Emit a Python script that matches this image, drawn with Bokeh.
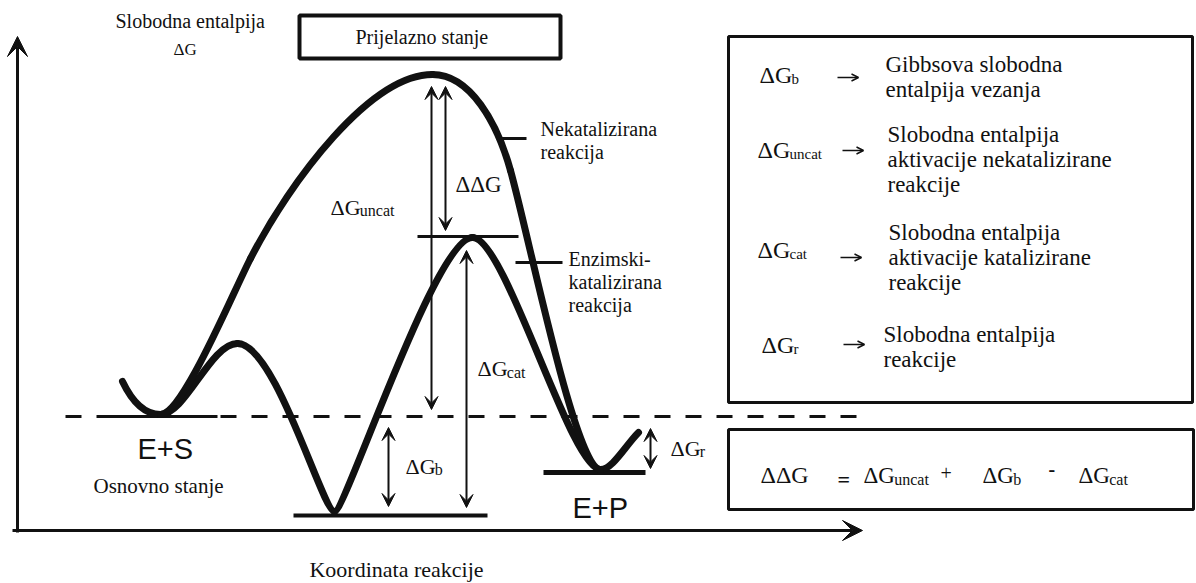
from bokeh.plotting import figure
from bokeh.models import Range1d, Arrow, VeeHead, OpenHead, ColumnDataSource
from bokeh.core.properties import value
from bokeh.embed import file_html
from bokeh.resources import INLINE

# ---------------- data (free energy G relative to E+S, arbitrary units) ----------------
G_ES = 0          # E+S  (osnovno stanje)
G_ESC = -99       # ES complex
G_TS_CAT = 180    # catalysed transition state
G_TS_UNCAT = 342  # uncatalysed transition state
G_EP = -56        # E+P

# catalysed path: anchor points (reaction coordinate, G) and bezier handles per segment
cat_x = [122, 160, 237, 334, 472, 600, 638]
cat_g = [35, 2, 73, -95, 179, -53, -16]
cat_c1x = [132, 185, 275, 345, 505, 612]
cat_c1g = [14, 2, 73, -95, 179, -53]
cat_c2x = [145, 210, 322, 435, 570, 625]
cat_c2g = [2, 73, -95, 179, -53, -29]

# uncatalysed path
unc_x = [160, 250, 432, 510, 600]
unc_g = [2, 158, 342, 246, -53]
unc_c1x = [182, 290, 470, 530]
unc_c1g = [2, 236, 342, 174]
unc_c2x = [232, 370, 497, 575]
unc_c2g = [123, 342, 293, -53]

# energy differences drawn as double arrows: (label, lower level, upper level)
dg_names = ["uncat", "ΔΔG", "cat", "b", "r"]
dg_low = [G_ES, G_TS_CAT, G_ESC, G_ESC, G_EP]
dg_high = [G_TS_UNCAT, G_TS_UNCAT, G_TS_CAT, G_ES, G_ES]

legend_subs = ["b", "uncat", "cat", "r"]
legend_desc = [["Gibbsova slobodna", "entalpija vezanja"],
               ["Slobodna entalpija", "aktivacije nekatalizirane", "reakcije"],
               ["Slobodna entalpija", "aktivacije katalizirane", "reakcije"],
               ["Slobodna entalpija", "reakcije"]]

# ---------------- layout ----------------
INK = "#111111"
SERIF = "Liberation Serif, Times New Roman, serif"
SANS = "Liberation Sans, Arial, sans-serif"
W, H = 1196, 583
TOP = 416          # G value at top edge
BASE_FIX = 0.34    # baseline correction (fraction of font size)

p = figure(width=W, height=H, x_range=Range1d(0, W), y_range=Range1d(TOP - H, TOP),
           output_backend="svg", toolbar_location=None, x_axis_type=None, y_axis_type=None,
           min_border=0, outline_line_color=None, background_fill_color="white",
           border_fill_color="white")
p.xgrid.visible = False
p.ygrid.visible = False


def add_text(x, g, s, size, font=SERIF, style="normal", align="left"):
    src = ColumnDataSource(dict(x=[x], y=[g + BASE_FIX * size], t=[s]))
    p.text(x="x", y="y", text="t", source=src, text_font=value(font),
           text_font_size=value(f"{size}px"), text_font_style=style,
           text_align=align, text_baseline="alphabetic", text_color=INK)


def dg_label(x, g, sub, size, sub_size, dy=1):
    add_text(x, g, "ΔG", size)
    if sub:
        add_text(x + 1.334 * size, g - dy, sub, sub_size)


# axes with arrows
p.add_layout(Arrow(end=VeeHead(size=20, fill_color=INK, line_color=INK),
                   x_start=17, y_start=-116, x_end=17, y_end=380,
                   line_width=3, line_color=INK))
p.add_layout(Arrow(end=VeeHead(size=20, fill_color=INK, line_color=INK),
                   x_start=12, y_start=-114, x_end=862, y_end=-114,
                   line_width=3, line_color=INK))

# reference dashed line at E+S level
p.segment(x0=[65], y0=[G_ES], x1=[865], y1=[G_ES], line_width=3, line_color=INK,
          line_dash="16 15")
# level lines
p.segment(x0=[98, 293, 543, 417], y0=[G_ES, G_ESC, G_EP, G_TS_CAT],
          x1=[217, 487, 645, 518], y1=[G_ES, G_ESC, G_EP, G_TS_CAT],
          line_width=[3, 4, 5, 3], line_color=INK)
# leader lines for curve labels
p.segment(x0=[500, 515], y0=[278, 154], x1=[526, 562], y1=[278, 154],
          line_width=3, line_color=INK)

# curves
for xs, gs, c1x, c1g, c2x, c2g in [(cat_x, cat_g, cat_c1x, cat_c1g, cat_c2x, cat_c2g),
                                   (unc_x, unc_g, unc_c1x, unc_c1g, unc_c2x, unc_c2g)]:
    src = ColumnDataSource(dict(x0=xs[:-1], y0=gs[:-1], x1=xs[1:], y1=gs[1:],
                                cx0=c1x, cy0=c1g, cx1=c2x, cy1=c2g))
    p.bezier(x0="x0", y0="y0", x1="x1", y1="y1", cx0="cx0", cy0="cy0",
             cx1="cx1", cy1="cy1", source=src, line_width=7, line_color=INK,
             line_cap="round")

# double arrows
arrow_x = [431, 445, 466, 388, 650]
pad_low = [7, 6, 8, 9, 4]
pad_high = [12, 12, 14, 11, 12]
for ax, lo, hi, pl, ph in zip(arrow_x, dg_low, dg_high, pad_low, pad_high):
    p.add_layout(Arrow(start=VeeHead(size=13, fill_color=INK, line_color=INK),
                       end=VeeHead(size=13, fill_color=INK, line_color=INK),
                       x_start=ax, y_start=lo + pl, x_end=ax, y_end=hi - ph,
                       line_width=2, line_color=INK))

# boxes
p.quad(left=[299, 728, 728], right=[560, 1192, 1193], top=[401, 380, -13],
       bottom=[358, 14, -93], fill_color="white", line_color=INK,
       line_width=[4, 3, 3])

# texts in the diagram
add_text(115, 389, "Slobodna entalpija", 20)
add_text(173, 361, "ΔG", 17)
add_text(355, 373, "Prijelazno stanje", 20)
add_text(540, 281, "Nekatalizirana", 20)
add_text(540, 258, "reakcija", 20)
add_text(568, 151, "Enzimski-", 20)
add_text(568, 128, "katalizirana", 20)
add_text(568, 105, "reakcija", 20)
add_text(137, -42, "E+S", 29, font=SANS)
add_text(572, -101, "E+P", 29, font=SANS)
add_text(93, -77, "Osnovno stanje", 21)
add_text(396, -160, "Koordinata reakcije", 22, align="center")

dg_label(330, 202, dg_names[0], 22, 16)
add_text(455, 224, dg_names[1], 23)
dg_label(477, 41, dg_names[2], 22, 16, dy=2)
dg_label(405, -57, dg_names[3], 22, 16)
dg_label(670, -39, dg_names[4], 22, 16)

# legend box
row_g = [333, 258, 158, 63]
row_x = [759, 757, 757, 761]
arrow_sym_x = [837, 842, 840, 843]
arrow_sym_g = [339, 266, 159, 72]
desc_x = [885, 887, 888, 883]
desc_top = [344, 274, 176, 74]
for sub, gx, gg, axx, axg, dx, dtop, lines in zip(legend_subs, row_x, row_g, arrow_sym_x,
                                                   arrow_sym_g, desc_x, desc_top, legend_desc):
    dg_label(gx, gg, sub, 24, 15)
    p.add_layout(Arrow(end=OpenHead(size=7, line_width=1.5, line_color=INK),
                       x_start=axx, y_start=axg, x_end=axx + 21, y_end=axg,
                       line_width=1.5, line_color=INK))
    for i, line in enumerate(lines):
        add_text(dx, dtop - 25 * i, line, 23)

# equation box
add_text(760, -67, "ΔΔG", 24)
add_text(837, -70, "=", 22, style="bold")
dg_label(863, -67, "uncat", 23, 16)
add_text(940, -63, "+", 20)
dg_label(982, -67, "b", 23, 16)
add_text(1048, -59, "-", 20, style="bold")
dg_label(1078, -67, "cat", 23, 16)

open("out.html", "w").write(file_html(p, INLINE))
